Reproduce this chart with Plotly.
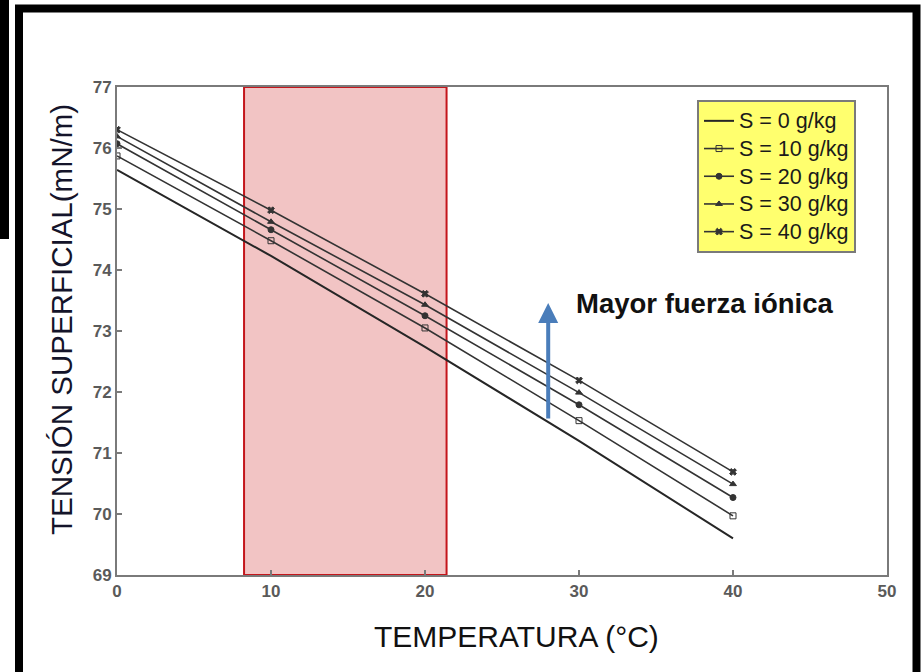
import plotly.graph_objects as go

# ---- data ----
temperatura = [0, 10, 20, 30, 40]
s0 = [75.64, 74.23, 72.74, 71.20, 69.60]
s10 = [75.87, 74.48, 73.05, 71.53, 69.97]
s20 = [76.07, 74.66, 73.25, 71.79, 70.27]
s30 = [76.19, 74.79, 73.43, 71.99, 70.49]
s40 = [76.30, 74.98, 73.61, 72.19, 70.69]
series_names = ["S = 0 g/kg", "S = 10 g/kg", "S = 20 g/kg", "S = 30 g/kg", "S = 40 g/kg"]
x_ticks = [0, 10, 20, 30, 40, 50]
y_ticks = [69, 70, 71, 72, 73, 74, 75, 76, 77]
zona_resaltada = [8.25, 21.4]       # highlighted temperature range
flecha_x = 28.0
flecha_y = [71.54, 73.46]           # tail, tip

W, H = 923, 672
L, R, T, B = 117, 36, 87, 97
PW, PH = W - L - R, H - T - B


def px(xp):
    return (xp - L) / PW


def py(yp):
    return (H - B - yp) / PH


FONT = "Liberation Sans, Arial, sans-serif"
LINE_COL = "#333333"

fig = go.Figure()
series = [s0, s10, s20, s30, s40]
symbols = [None, "square-open", "circle", "triangle-up", "x"]
for name, vals, sym in zip(series_names, series, symbols):
    label = '<span style="font-size:21.5px">' + name + '</span>'
    if sym is None:
        fig.add_trace(go.Scatter(x=temperatura, y=vals, mode="lines", name=label,
                                 line=dict(color="#262626", width=2)))
    else:
        fig.add_trace(go.Scatter(x=temperatura, y=vals, mode="lines+markers", name=label,
                                 line=dict(color=LINE_COL, width=1.6),
                                 marker=dict(symbol=sym, size=6, color=LINE_COL,
                                             line=dict(color=LINE_COL, width=1))))

shapes = [
    # highlighted band
    dict(type="rect", xref="x", yref="y", x0=zona_resaltada[0], x1=zona_resaltada[1],
         y0=69, y1=77, fillcolor="#F2C4C4", line=dict(color="#C4161C", width=2), layer="below"),
    # outer frame
    dict(type="rect", xref="paper", yref="paper", x0=px(19), x1=px(916.5), y0=py(690), y1=py(8.5),
         line=dict(color="black", width=8), fillcolor="rgba(0,0,0,0)", layer="above"),
    dict(type="rect", xref="paper", yref="paper", x0=px(-5), x1=px(9), y0=py(239), y1=py(-5),
         line=dict(width=0), fillcolor="black", layer="above"),
]

annotations = [
    dict(x=flecha_x, y=flecha_y[1], ax=flecha_x, ay=flecha_y[0], xref="x", yref="y",
         axref="x", ayref="y", text="", showarrow=True, arrowhead=2, arrowsize=1,
         arrowwidth=4, arrowcolor="#4A7DBA"),
    dict(x=px(704), y=py(303), xref="paper", yref="paper", text="<b>Mayor fuerza iónica</b>",
         showarrow=False, font=dict(family=FONT, size=27.5, color="#111111"),
         xanchor="center", yanchor="middle"),
    dict(x=px(61), y=py(320), xref="paper", yref="paper", text="TENSIÓN SUPERFICIAL(mN/m)",
         showarrow=False, textangle=-90, font=dict(family=FONT, size=29.5, color="#14142a"),
         xanchor="center", yanchor="middle"),
    dict(x=px(516.5), y=py(636), xref="paper", yref="paper", text="TEMPERATURA (°C)",
         showarrow=False, font=dict(family=FONT, size=30, color="#111111"),
         xanchor="center", yanchor="middle"),
]

axis_common = dict(showgrid=False, zeroline=False, showline=True, linecolor="#7a7a7a",
                   linewidth=2, mirror=True, ticks="inside", ticklen=5, tickcolor="#7a7a7a",
                   tickwidth=1.5,
                   tickfont=dict(family=FONT, size=17, color="#5a5a5a", weight="bold"))

fig.update_layout(
    width=W, height=H,
    margin=dict(l=L, r=R, t=T, b=B),
    paper_bgcolor="white", plot_bgcolor="white",
    xaxis=dict(range=[0, 50], tickvals=x_ticks, **axis_common),
    yaxis=dict(range=[69, 77], tickvals=y_ticks, **axis_common),
    legend=dict(x=px(697), y=py(100), xanchor="left", yanchor="top",
                bgcolor="#FFFF6E", bordercolor="#7a7a7a", borderwidth=2,
                font=dict(family=FONT, size=19, color="#1a1a1a"), itemwidth=30),
    shapes=shapes, annotations=annotations,
    showlegend=True,
)

fig.write_html("out.html")
